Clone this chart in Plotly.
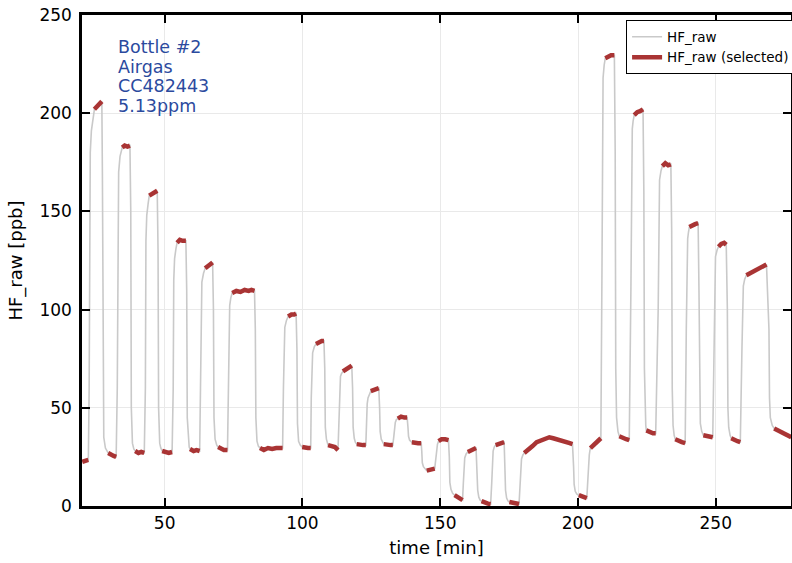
import plotly.graph_objects as go

# Selected (steady-state) windows of the HF_raw signal: time [min] and value [ppb]
sel_t = [
    [20.1, 21.2, 22.3],
    [24.5, 25.5, 26.5, 27.2],
    [29.5, 30.5, 31.5, 32.4],
    [34.6, 35.5, 36.5, 37.4],
    [39.3, 40.5, 41.5, 42.6],
    [44.4, 45.5, 46.5, 47.3],
    [49.1, 50.5, 51.5, 52.7],
    [54.5, 55.5, 56.5, 57.7],
    [59.2, 60.5, 61.5, 62.7],
    [64.7, 65.8, 66.8, 67.4],
    [69.4, 70.5, 71.5, 72.8],
    [74.5, 76.0, 77.5, 79.0, 80.5, 81.5, 82.6],
    [84.6, 86.0, 87.5, 89.0, 90.5, 92.0, 92.8],
    [94.8, 96.0, 97.0, 97.7],
    [99.9, 101.0, 102.0, 103.0],
    [104.9, 106.0, 107.0, 107.8],
    [109.3, 110.5, 111.8, 112.9],
    [114.7, 115.8, 116.8, 117.9],
    [119.7, 121.0, 122.0, 123.0],
    [124.8, 126.0, 127.0, 127.7],
    [129.5, 130.8, 132.0, 132.8],
    [134.6, 135.8, 137.0, 138.0],
    [139.7, 141.0, 142.0, 143.1],
    [145.1, 146.2, 147.2, 148.0],
    [149.4, 150.5, 151.8, 153.0],
    [155.2, 156.2, 157.2, 158.1],
    [160.0, 161.0, 162.0, 163.0],
    [165.0, 166.2, 167.3, 168.3],
    [170.1, 171.2, 172.2, 173.2],
    [175.1, 176.3, 177.5, 178.6],
    [180.5, 182.0, 183.5, 185.0, 186.5, 188.0, 189.6, 191.0, 192.5, 194.0, 195.5, 197.0, 198.0],
    [200.3, 201.5, 202.5, 203.2],
    [204.5, 205.5, 206.5, 207.5, 208.3],
    [209.9, 211.0, 212.0, 213.2],
    [215.0, 216.3, 217.5, 218.6],
    [220.4, 221.5, 222.5, 223.6],
    [224.8, 226.0, 227.2, 228.2],
    [230.6, 231.7, 232.7, 233.7],
    [235.3, 236.5, 237.7, 238.9],
    [240.4, 241.5, 242.5, 243.6],
    [245.5, 246.7, 247.8, 248.9],
    [251.0, 252.0, 253.0, 253.8],
    [255.6, 256.8, 257.9, 258.9],
    [261.1, 262.5, 264.0, 265.5, 267.0, 268.4],
    [271.2, 272.5, 274.0, 275.5, 277.4],
]
sel_v = [
    [22.5, 23.0, 23.5],
    [202.0, 203.5, 205.0, 206.0],
    [27.0, 26.0, 25.5, 25.0],
    [182.5, 183.5, 183.0, 183.5],
    [28.0, 27.0, 27.5, 27.0],
    [158.0, 159.0, 159.5, 160.5],
    [28.0, 27.5, 27.0, 27.5],
    [134.0, 135.5, 135.0, 135.0],
    [29.0, 28.0, 28.5, 28.0],
    [121.0, 122.5, 123.5, 124.0],
    [30.0, 29.0, 28.5, 28.5],
    [108.5, 109.5, 109.0, 110.0, 109.5, 110.0, 109.5],
    [29.5, 28.5, 29.5, 29.0, 29.5, 29.5, 29.5],
    [96.5, 97.5, 97.5, 98.0],
    [30.0, 29.5, 29.5, 29.5],
    [82.5, 83.5, 84.0, 84.0],
    [31.0, 30.5, 30.0, 28.5],
    [68.5, 69.5, 70.5, 71.5],
    [31.5, 31.0, 31.0, 31.0],
    [58.5, 59.0, 59.5, 60.0],
    [31.5, 31.0, 31.0, 31.0],
    [44.5, 45.5, 45.0, 45.0],
    [32.5, 32.0, 32.0, 32.0],
    [18.0, 18.5, 18.5, 19.0],
    [33.0, 34.0, 34.0, 33.5],
    [5.5, 4.5, 3.5, 3.0],
    [27.5, 28.0, 29.0, 29.5],
    [2.5, 1.5, 1.2, 1.0],
    [31.0, 31.5, 32.0, 32.5],
    [2.0, 1.5, 1.2, 1.0],
    [27.0, 28.5, 30.5, 32.5, 33.5, 34.5, 35.0, 34.5, 34.0, 33.5, 33.0, 32.0, 31.5],
    [5.5, 5.0, 4.5, 4.0],
    [29.5, 31.0, 32.0, 33.5, 34.5],
    [228.0, 229.0, 229.5, 229.5],
    [35.5, 34.5, 34.0, 33.5],
    [199.0, 200.5, 201.0, 202.0],
    [38.5, 37.5, 37.0, 37.0],
    [173.0, 174.5, 173.5, 174.0],
    [34.0, 33.0, 32.5, 32.0],
    [142.0, 143.0, 143.5, 144.0],
    [36.0, 35.5, 35.0, 35.0],
    [132.0, 133.5, 134.0, 133.0],
    [34.5, 33.5, 33.0, 32.5],
    [117.5, 118.5, 119.5, 120.5, 121.5, 123.0],
    [39.5, 38.5, 37.5, 36.5, 35.0],
]

# Transient samples between the selected windows (valve switching edges)
edge_t = [
    [22.6, 22.8, 23.0, 23.4, 24.0],
    [27.4, 27.6, 27.9, 28.5],
    [32.8, 33.0, 33.3, 33.8],
    [37.7, 37.9, 38.3, 38.8],
    [43.0, 43.2, 43.5, 44.0],
    [47.6, 47.8, 48.2, 48.6],
    [53.1, 53.3, 53.6, 54.1],
    [58.0, 58.2, 58.6, 58.9],
    [63.0, 63.2, 63.5, 64.1],
    [67.7, 67.9, 68.3, 68.9],
    [73.1, 73.3, 73.6, 74.0],
    [82.9, 83.1, 83.5, 84.0],
    [93.1, 93.3, 93.6, 94.2],
    [98.0, 98.2, 98.6, 99.2],
    [103.2, 103.4, 103.7, 104.3],
    [108.1, 108.3, 108.7, 109.0],
    [113.3, 113.5, 113.8, 114.2],
    [118.2, 118.4, 118.8, 119.2],
    [123.3, 123.5, 123.8, 124.3],
    [128.0, 128.2, 128.6, 129.0],
    [133.2, 133.4, 133.7, 134.1],
    [138.3, 138.5, 138.9, 139.3],
    [143.3, 143.5, 143.9, 144.5],
    [148.5, 148.7, 149.0],
    [153.3, 153.5, 153.9, 154.5],
    [158.4, 158.6, 158.9, 159.4],
    [163.4, 163.6, 164.0, 164.5],
    [168.7, 168.9, 169.2, 169.6],
    [173.5, 173.7, 174.1, 174.6],
    [179.0, 179.2, 179.5, 180.0],
    [198.4, 198.6, 199.0, 199.6],
    [203.6, 203.8, 204.1, 204.3],
    [208.7, 208.9, 209.1, 209.5],
    [213.5, 213.7, 214.0, 214.5],
    [219.2, 219.4, 219.7, 220.0],
    [223.9, 224.1, 224.3, 224.6],
    [229.1, 229.3, 229.6, 230.1],
    [234.0, 234.2, 234.5, 234.9],
    [239.3, 239.5, 239.8, 240.1],
    [243.9, 244.1, 244.4, 244.9],
    [249.4, 249.6, 249.9, 250.5],
    [254.2, 254.4, 254.7, 255.2],
    [259.5, 259.7, 260.0, 260.5],
    [269.3, 269.5, 269.8, 270.5],
]
edge_v = [
    [60, 150, 180, 191, 198],
    [170, 60, 35, 29.5],
    [60, 150, 170, 178],
    [150, 50, 32, 29],
    [60, 135, 148, 154],
    [130, 50, 32, 29.5],
    [60, 115, 126, 131],
    [110, 45, 32, 30],
    [60, 105, 114, 118.5],
    [100, 45, 34, 31],
    [60, 95, 102, 106],
    [90, 45, 33, 30.5],
    [60, 85, 91, 94.5],
    [80, 42, 33, 31],
    [55, 72, 78, 81],
    [70, 40, 34, 32],
    [50, 62, 66, 67.5],
    [60, 40, 34.5, 32.5],
    [45, 52, 55, 57],
    [50, 38, 34, 32.5],
    [36, 40, 42.5, 44],
    [40, 35.5, 33.5, 33],
    [28, 22, 20, 19],
    [25, 29, 31.5],
    [25, 12, 8.5, 6.5],
    [12, 21, 24.5, 26.5],
    [18, 8, 4.5, 3],
    [12, 24, 28, 30],
    [18, 8, 4, 2.5],
    [10, 20, 24, 26],
    [20, 11, 7.5, 6],
    [14, 22, 26, 28],
    [120, 205, 218, 224.5],
    [180, 70, 45, 38],
    [110, 180, 192, 196],
    [160, 70, 47, 41],
    [100, 155, 166, 170.5],
    [140, 60, 41, 36],
    [90, 128, 136, 139.5],
    [110, 55, 42, 38],
    [90, 120, 127, 130.5],
    [100, 50, 40, 36],
    [80, 106, 112, 115.5],
    [90, 55, 45, 41],
]

x_ticks = [50, 100, 150, 200, 250]
y_ticks = [0, 50, 100, 150, 200, 250]
label_lines = ["Bottle #2", "Airgas", "CC482443", "5.13ppm"]

# Full raw trace: every sample (selected windows plus transients) in time order
raw = sorted(
    [(t, v) for ts, vs in zip(sel_t, sel_v) for t, v in zip(ts, vs)]
    + [(t, v) for ts, vs in zip(edge_t, edge_v) for t, v in zip(ts, vs)]
)
raw_t = [p[0] for p in raw]
raw_v = [p[1] for p in raw]

# Selected windows as one trace, broken between windows
sel_x, sel_y = [], []
for ts, vs in zip(sel_t, sel_v):
    sel_x += ts + [None]
    sel_y += vs + [None]

FONT = "DejaVu Sans"

fig = go.Figure()
fig.add_trace(go.Scatter(
    x=raw_t, y=raw_v, mode="lines", name="HF_raw",
    line=dict(color="#c9c9c9", width=1.6),
))
fig.add_trace(go.Scatter(
    x=sel_x, y=sel_y, mode="lines", name="HF_raw (selected)",
    line=dict(color="#a93434", width=4.5), connectgaps=False,
))

axis_common = dict(
    showline=True, linecolor="black", linewidth=2.5, mirror="ticks",
    ticks="inside", ticklen=8, tickwidth=2, tickcolor="black",
    showgrid=True, gridcolor="#e9e9e9", gridwidth=1, zeroline=False,
    tickfont=dict(family=FONT, size=17, color="black"),
)

fig.update_xaxes(
    range=[20, 277.3], tickvals=x_ticks,
    title=dict(text="time [min]", font=dict(family=FONT, size=18, color="black"), standoff=10),
    **axis_common,
)
fig.update_yaxes(
    range=[0, 250], tickvals=y_ticks, ticklabelstandoff=4,
    title=dict(text="HF_raw [ppb]", font=dict(family=FONT, size=18, color="black"), standoff=13),
    **axis_common,
)

for line, yv in zip(label_lines, [233.5, 223.3, 213.6, 203.7]):
    fig.add_annotation(
        x=32.3, y=yv, xref="x", yref="y", text=line, showarrow=False,
        xanchor="left", yanchor="middle",
        font=dict(family=FONT, size=17.5, color="#2b4a9e"),
    )

fig.update_layout(
    width=792, height=563,
    margin=dict(l=82, r=1, t=15, b=57, autoexpand=False),
    plot_bgcolor="white", paper_bgcolor="white",
    font=dict(family=FONT, color="black"),
    legend=dict(
        x=0.7674, y=0.989, xanchor="left", yanchor="top",
        bordercolor="black", borderwidth=1, bgcolor="white",
        entrywidth=175, entrywidthmode="pixels",
        font=dict(family=FONT, size=13.5, color="black"),
    ),
    showlegend=True,
)

fig.write_html("out.html")
